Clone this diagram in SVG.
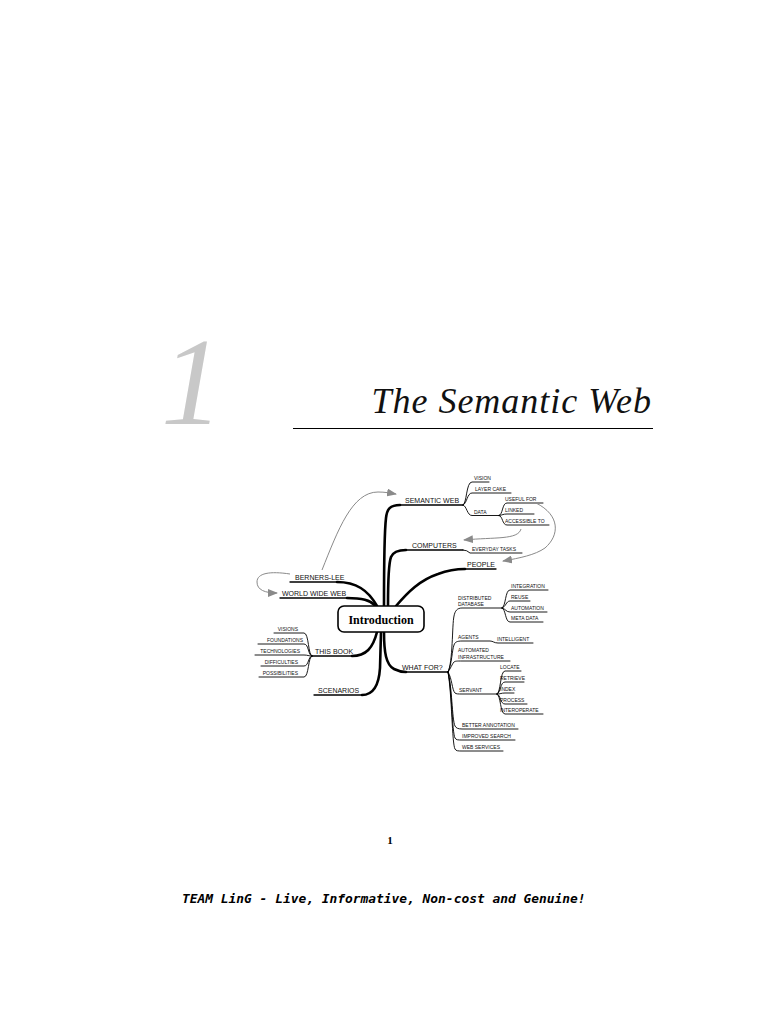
<svg xmlns="http://www.w3.org/2000/svg" width="768" height="1024" viewBox="0 0 768 1024">
<style>
.m{font-family:"Liberation Sans",Arial,sans-serif;font-size:7px;fill:#111}
.s{font-family:"Liberation Sans",Arial,sans-serif;font-size:5px;fill:#111}
.tk{fill:none;stroke:#000;stroke-width:2.6;stroke-linecap:round}
.ul{fill:none;stroke:#000;stroke-width:1.3;stroke-linecap:round}
.fn{fill:none;stroke:#000;stroke-width:0.9;stroke-linecap:round}
.ar{fill:none;stroke:#8a8a8a;stroke-width:1}
</style>
<defs>
<marker id="ah" markerUnits="userSpaceOnUse" markerWidth="10" markerHeight="8" refX="9" refY="4" orient="auto">
<path d="M0,0 L10,4 L0,8 z" fill="#8a8a8a"/>
</marker>
</defs>
<rect width="768" height="1024" fill="#fff"/>

<g id="chapter-heading">
<text x="192" y="424" text-anchor="middle" font-family="'Liberation Serif',serif" font-style="italic" font-size="124" fill="#c8c8c8">1</text>
<text x="652" y="413" text-anchor="end" font-family="'Liberation Serif',serif" font-style="italic" font-size="36" letter-spacing="1" fill="#111">The Semantic Web</text>
<line x1="293" y1="428.5" x2="653" y2="428.5" stroke="#000" stroke-width="1"/>
</g>

<g id="connectors">
<!-- trunk branches -->
<path class="tk" d="M384,606 C384,575 384,535 386,518 C387,509 390,505 400,505"/>
<path class="tk" d="M388,606 C388,585 388,565 391,557 C393,552 397,550 406,550"/>
<path class="tk" d="M396,606 C408,592 420,580 438,574 C446,571 454,569 465,569" stroke-width="3.2"/>
<path class="tk" d="M337,582 C356,582 368,590 377,606" stroke-width="2.2"/>
<path class="tk" d="M347,598 C362,598 370,600 376,606" stroke-width="2.2"/>
<path class="tk" d="M352,656 C366,656 373,648 377,632" stroke-width="2.2"/>
<path class="tk" d="M362,695 C374,695 379,684 380,668 L381,632" stroke-width="2.2"/>
<path class="tk" d="M384,632 C384,652 386,665 394,669 C398,671 402,672 406,672" stroke-width="2.2"/>
<!-- main underlines -->
<path class="ul" d="M400,505 L463,505"/>
<path class="ul" d="M406,550 L463,550"/>
<path class="fn" d="M463,550 Q467,550 470,553 L522,553"/>
<path class="ul" d="M465,569 L496,569"/>
<path class="ul" d="M290,582 L337,582"/>
<path class="ul" d="M280,598 L347,598"/>
<path class="ul" d="M312,656 L352,656"/>
<path class="ul" d="M314,695 L362,695"/>
<path class="ul" d="M406,672 L448,672"/>
<!-- semantic web fan -->
<path class="fn" d="M463,505 C467,504 466,482 472,482 L489,482"/>
<path class="fn" d="M463,505 C467,504 467,493 472,493 L511,493"/>
<path class="fn" d="M463,505 C467,506 467,515.5 472,515.5 L499,515.5"/>
<path class="fn" d="M499,515.5 C503,515 502,503 507,503 L543,503"/>
<path class="fn" d="M499,515.5 C503,515 503,514 507,514 L534,514"/>
<path class="fn" d="M499,515.5 C503,516 502,525 507,525 L549,525"/>
<!-- this book fan -->
<path class="fn" d="M312,656 C308,656 309,633 304,633 L274,633"/>
<path class="fn" d="M312,656 C308,656 309,644 304,644 L258,644"/>
<path class="fn" d="M312,656 C308,656 308,655 304,655 L255,655"/>
<path class="fn" d="M312,656 C308,656 309,666 304,666 L261,666"/>
<path class="fn" d="M312,656 C308,656 309,677 304,677 L259,677"/>
<!-- what for fan -->
<path class="fn" stroke-width="1.2" d="M448,672 C453,662 452,625 454,616 C455,611 457,608 462,608 L502,608"/>
<path class="fn" stroke-width="1.2" d="M448,672 C452,664 452,650 454,645 C455,642 457,641 462,641 L490,641 C493,641 494,643 498,643 L533,643"/>
<path class="fn" stroke-width="1.2" d="M448,672 C451,668 452,664 454,662 C455,661 457,661 462,661 L510,661"/>
<path class="fn" stroke-width="1.2" d="M448,672 C452,678 452,690 455,693 C456,694 458,694 462,694 L497,694"/>
<path class="fn" stroke-width="1.2" d="M448,672 C452,685 452,720 455,726 C456,728 458,729 462,729 L518,729"/>
<path class="fn" stroke-width="1.2" d="M448,672 C452,690 452,732 455,738 C456,740 458,740 462,740 L515,740"/>
<path class="fn" stroke-width="1.2" d="M448,672 C452,695 452,744 455,749 C456,751 458,751 462,751 L503,751"/>
<!-- distributed database fan -->
<path class="fn" d="M502,608 C506,607 505,590 510,590 L548,590"/>
<path class="fn" d="M502,608 C506,607 506,601 510,601 L530,601"/>
<path class="fn" d="M502,608 C506,609 506,612 510,612 L547,612"/>
<path class="fn" d="M502,608 C506,609 505,622 510,622 L543,622"/>
<!-- servant fan -->
<path class="fn" d="M497,694 C501,693 500,671 505,671 L521,671"/>
<path class="fn" d="M497,694 C501,693 500,682 505,682 L524,682"/>
<path class="fn" d="M497,694 C501,694 501,693 505,693 L514,693"/>
<path class="fn" d="M497,694 C501,695 500,704 505,704 L527,704"/>
<path class="fn" d="M497,694 C501,695 500,714 505,714 L543,714"/>
<!-- grey arrows -->
<path class="ar" marker-end="url(#ah)" d="M322,570 C338,530 352,492 378,492 C385,492 390,493 396,494"/>
<path class="ar" marker-end="url(#ah)" d="M290,574 C270,571 257,573 257,582 C257,590 265,593 277,593"/>
<path class="ar" marker-end="url(#ah)" d="M521,529 C518,540 495,537 464,540"/>
<path class="ar" marker-end="url(#ah)" d="M536,503 C560,515 560,535 545,548 C535,555 520,558 503,561"/>
</g>

<g id="introduction">
<rect x="338" y="606" width="86" height="26" rx="6" ry="6" fill="#fff" stroke="#000" stroke-width="1.6"/>
<text x="381" y="623.5" text-anchor="middle" font-family="'Liberation Serif',serif" font-weight="bold" font-size="12" fill="#000">Introduction</text>
</g>

<g id="semantic-web"><text class="m" x="405" y="502.5">SEMANTIC WEB</text></g>
<g id="vision"><text class="s" x="474" y="480">VISION</text></g>
<g id="layer-cake"><text class="s" x="475" y="491">LAYER CAKE</text></g>
<g id="data"><text class="s" x="474" y="513.5">DATA</text></g>
<g id="useful-for"><text class="s" x="505" y="501">USEFUL FOR</text></g>
<g id="linked"><text class="s" x="505" y="512">LINKED</text></g>
<g id="accessible-to"><text class="s" x="505" y="523">ACCESSIBLE TO</text></g>
<g id="computers"><text class="m" x="412" y="547.5">COMPUTERS</text></g>
<g id="everyday-tasks"><text class="s" x="472" y="551">EVERYDAY TASKS</text></g>
<g id="people"><text class="m" x="467" y="567">PEOPLE</text></g>
<g id="berners-lee"><text class="m" x="295" y="579.5">BERNERS-LEE</text></g>
<g id="world-wide-web"><text class="m" x="282" y="595.5">WORLD WIDE WEB</text></g>
<g id="this-book"><text class="m" x="315" y="653.5">THIS BOOK</text></g>
<g id="visions"><text class="s" x="298" y="631" text-anchor="end">VISIONS</text></g>
<g id="foundations"><text class="s" x="303" y="642" text-anchor="end">FOUNDATIONS</text></g>
<g id="technologies"><text class="s" x="300" y="653" text-anchor="end">TECHNOLOGIES</text></g>
<g id="difficulties"><text class="s" x="298" y="664" text-anchor="end">DIFFICULTIES</text></g>
<g id="possibilities"><text class="s" x="298" y="675" text-anchor="end">POSSIBILITIES</text></g>
<g id="scenarios"><text class="m" x="318" y="692.5">SCENARIOS</text></g>
<g id="what-for"><text class="m" x="402" y="669.5">WHAT FOR?</text></g>
<g id="distributed-database"><text class="s" x="458" y="600">DISTRIBUTED</text><text class="s" x="458" y="606">DATABASE</text></g>
<g id="integration"><text class="s" x="511" y="588">INTEGRATION</text></g>
<g id="reuse"><text class="s" x="511" y="599">REUSE</text></g>
<g id="automation"><text class="s" x="511" y="610">AUTOMATION</text></g>
<g id="meta-data"><text class="s" x="511" y="620">META DATA</text></g>
<g id="agents"><text class="s" x="458" y="639">AGENTS</text></g>
<g id="intelligent"><text class="s" x="497" y="641">INTELLIGENT</text></g>
<g id="automated-infrastructure"><text class="s" x="458" y="652">AUTOMATED</text><text class="s" x="458" y="659">INFRASTRUCTURE</text></g>
<g id="servant"><text class="s" x="459" y="692">SERVANT</text></g>
<g id="locate"><text class="s" x="500" y="669">LOCATE</text></g>
<g id="retrieve"><text class="s" x="500" y="680">RETRIEVE</text></g>
<g id="index"><text class="s" x="500" y="691">INDEX</text></g>
<g id="process"><text class="s" x="500" y="702">PROCESS</text></g>
<g id="interoperate"><text class="s" x="500" y="712">INTEROPERATE</text></g>
<g id="better-annotation"><text class="s" x="462" y="727">BETTER ANNOTATION</text></g>
<g id="improved-search"><text class="s" x="462" y="738">IMPROVED SEARCH</text></g>
<g id="web-services"><text class="s" x="462" y="749">WEB SERVICES</text></g>

<g id="page-footer">
<text x="390" y="844" text-anchor="middle" font-family="'Liberation Serif',serif" font-weight="bold" font-size="11" fill="#000">1</text>
<text x="182" y="903" font-family="'DejaVu Sans Mono',monospace" font-weight="bold" font-style="italic" font-size="12.9" fill="#000">TEAM LinG - Live, Informative, Non-cost and Genuine!</text>
</g>
</svg>
